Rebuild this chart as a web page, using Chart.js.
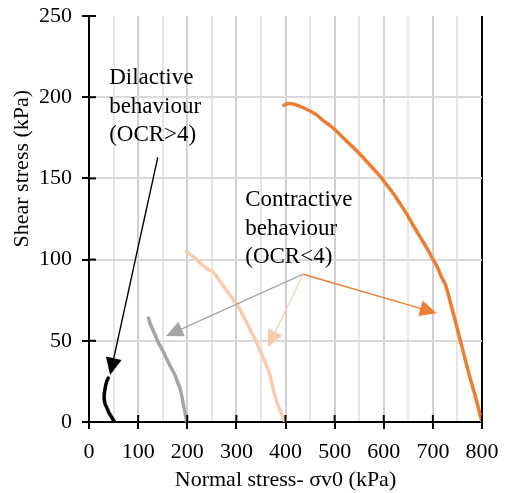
<!DOCTYPE html>
<html>
<head>
<meta charset="utf-8">
<script src="https://cdn.jsdelivr.net/npm/chart.js@4"></script>
<style>
  html, body { margin: 0; padding: 0; background: #fff; }
  #wrap { width: 508px; height: 493px; }
</style>
</head>
<body>
<div id="wrap"><canvas id="chart" width="508" height="493"></canvas></div>
<script>
// curves: normal stress (kPa) / shear stress (kPa)
const blackX = [39, 36, 33, 31, 31, 33, 36, 40, 44, 48, 52];
const blackY = [27, 25, 21, 17, 14, 11, 9, 6, 4, 2, 0];

const greyX = [121, 124, 128, 134, 141, 150, 158, 166, 175, 181, 185, 189, 192, 196, 199];
const greyY = [64, 61, 58, 54, 49, 44, 39, 34, 29, 24, 21, 16, 11, 5, 0];

const peachX = [199, 206, 216, 226, 234, 242, 250, 257, 268, 280, 292, 304, 316, 328, 338, 348, 357, 365, 369, 372, 378, 385, 392, 399];
const peachY = [105, 103, 101, 98, 96, 94, 93, 91, 86, 81, 76, 71, 64, 57, 51, 44, 38, 32, 28, 24, 17, 10, 5, 0];

const orangeX = [397, 403, 413, 424, 436, 450, 464, 477, 491, 504, 524, 545, 568, 592, 606, 620, 633, 647, 660, 674, 686, 698, 708, 718, 725, 731, 738, 750, 762, 775, 788, 800];
const orangeY = [195, 196, 196, 195, 193.5, 191.5, 189, 185.5, 182.5, 179, 173, 167, 159.5, 151.5, 146, 140.5, 134.5, 128, 121, 114, 108, 101.5, 96, 89, 85, 79, 71, 57, 43, 28, 14, 0];

const seriesColors = ['#000000', '#a5a5a5', '#f8cbad', '#ed7d31'];

// annotations, in data coordinates
const dilLines = ['Dilactive', 'behaviour', '(OCR>4)'];
const dilAt = [41, 208];
const conLines = ['Contractive', 'behaviour', '(OCR<4)'];
const conAt = [318, 133];

const arrowFrom = [[140, 163], [436, 91], [436, 91], [436, 91]];
const arrowTo = [[43, 29], [157, 53], [364, 46], [708, 67]];
const arrowColors = ['#000000', '#a5a5a5', '#f8cbad', '#ed7d31'];

const xTicks = [0, 800, 50];
const yTicks = [0, 250, 50];
const yTitle = 'Shear stress (kPa)';

function pts(xs, ys) {
    return xs.map((x, i) => ({ x: x, y: ys[i] }));
}

const serif = '"Liberation Serif", "Times New Roman", serif';

const notes = {
    id: 'notes',
    afterDraw(chart) {
        const c = chart.ctx;
        const xs = chart.scales.x, ys = chart.scales.y;
        const area = chart.chartArea;

        // tick marks crossing into the plot
        c.save();
        c.strokeStyle = '#000';
        c.lineWidth = 2;
        for (let v = xTicks[0]; v <= xTicks[1]; v += 100) {
            const px = xs.getPixelForValue(v);
            c.beginPath(); c.moveTo(px, area.bottom); c.lineTo(px, area.bottom - 7); c.stroke();
        }
        for (let v = yTicks[0]; v <= yTicks[1]; v += yTicks[2]) {
            const py = ys.getPixelForValue(v);
            c.beginPath(); c.moveTo(area.left, py); c.lineTo(area.left + 7, py); c.stroke();
        }

        // arrows
        arrowFrom.forEach((f, i) => {
            const x1 = xs.getPixelForValue(f[0]), y1 = ys.getPixelForValue(f[1]);
            const x2 = xs.getPixelForValue(arrowTo[i][0]), y2 = ys.getPixelForValue(arrowTo[i][1]);
            const a = Math.atan2(y2 - y1, x2 - x1);
            const len = 17, half = 8;
            c.strokeStyle = arrowColors[i];
            c.fillStyle = arrowColors[i];
            c.lineWidth = i === 2 ? 1.2 : 1.4;
            c.beginPath();
            c.moveTo(x1, y1);
            c.lineTo(x2 - Math.cos(a) * len * 0.9, y2 - Math.sin(a) * len * 0.9);
            c.stroke();
            c.beginPath();
            c.moveTo(x2, y2);
            c.lineTo(x2 - Math.cos(a) * len - Math.sin(a) * half, y2 - Math.sin(a) * len + Math.cos(a) * half);
            c.lineTo(x2 - Math.cos(a) * len + Math.sin(a) * half, y2 - Math.sin(a) * len - Math.cos(a) * half);
            c.closePath();
            c.fill();
        });

        // labels
        c.fillStyle = '#000';
        c.font = '23px ' + serif;
        c.textAlign = 'left';
        c.textBaseline = 'alphabetic';
        [[dilLines, dilAt], [conLines, conAt]].forEach(([lines, at]) => {
            const px = xs.getPixelForValue(at[0]), py = ys.getPixelForValue(at[1]);
            lines.forEach((t, k) => c.fillText(t, px, py + k * 28.5));
        });

        // y axis title sits above the middle of the axis, as in the source
        c.translate(22.5, ys.getPixelForValue(156));
        c.rotate(-Math.PI / 2);
        c.font = '22px ' + serif;
        c.textAlign = 'center';
        c.textBaseline = 'middle';
        c.fillText(yTitle, 0, 0);
        c.restore();
    }
};

new Chart(document.getElementById('chart').getContext('2d'), {
    type: 'scatter',
    data: {
        datasets: [
            { data: pts(blackX, blackY), borderColor: seriesColors[0] },
            { data: pts(greyX, greyY), borderColor: seriesColors[1] },
            { data: pts(peachX, peachY), borderColor: seriesColors[2] },
            { data: pts(orangeX, orangeY), borderColor: seriesColors[3] }
        ].map(d => Object.assign(d, {
            showLine: true,
            borderWidth: 3.5,
            pointRadius: 0,
            tension: 0.2,
            borderCapStyle: 'round',
            borderJoinStyle: 'round',
            fill: false
        }))
    },
    options: {
        responsive: false,
        animation: false,
        layout: { padding: { top: 16, right: 26, left: 0, bottom: 0 } },
        plugins: {
            legend: { display: false },
            tooltip: { enabled: false }
        },
        scales: {
            x: {
                type: 'linear',
                min: xTicks[0],
                max: xTicks[1],
                afterFit: s => { s.height = 71; s.paddingLeft = 0; s.paddingRight = 0; },
                ticks: {
                    stepSize: xTicks[2],
                    autoSkip: false,
                    maxRotation: 0,
                    padding: 10,
                    color: '#000',
                    font: { family: serif, size: 22 },
                    callback: v => (v % 100 === 0 ? v : '')
                },
                grid: {
                    color: ctx => {
                        if (!ctx.tick) return '#d9d9d9';
                        if (ctx.tick.value === 800) return '#000';
                        return ctx.tick.value % 100 === 0 ? '#d0d0d0' : '#e6e6e6';
                    },
                    lineWidth: 2,
                    tickLength: 7,
                    tickColor: ctx => (ctx.tick && ctx.tick.value % 100 === 0 ? '#000' : 'rgba(0,0,0,0)'),
                    tickWidth: 2
                },
                border: { color: '#000', width: 2 },
                title: {
                    display: true,
                    text: 'Normal stress- σv0 (kPa)',
                    color: '#000',
                    font: { family: serif, size: 22 },
                    padding: { top: 0, bottom: 0 }
                }
            },
            y: {
                type: 'linear',
                min: yTicks[0],
                max: yTicks[1],
                afterFit: s => { s.width = 89; s.paddingTop = 0; s.paddingBottom = 0; },
                ticks: {
                    stepSize: yTicks[2],
                    padding: 10,
                    color: '#000',
                    font: { family: serif, size: 22 }
                },
                grid: {
                    color: ctx => (ctx.tick && ctx.tick.value === 250 ? 'rgba(0,0,0,0)' : '#d9d9d9'),
                    lineWidth: 2,
                    tickLength: 7,
                    tickColor: '#000',
                    tickWidth: 2
                },
                border: { color: '#000', width: 2 }
            }
        }
    },
    plugins: [notes]
});
</script>
</body>
</html>
